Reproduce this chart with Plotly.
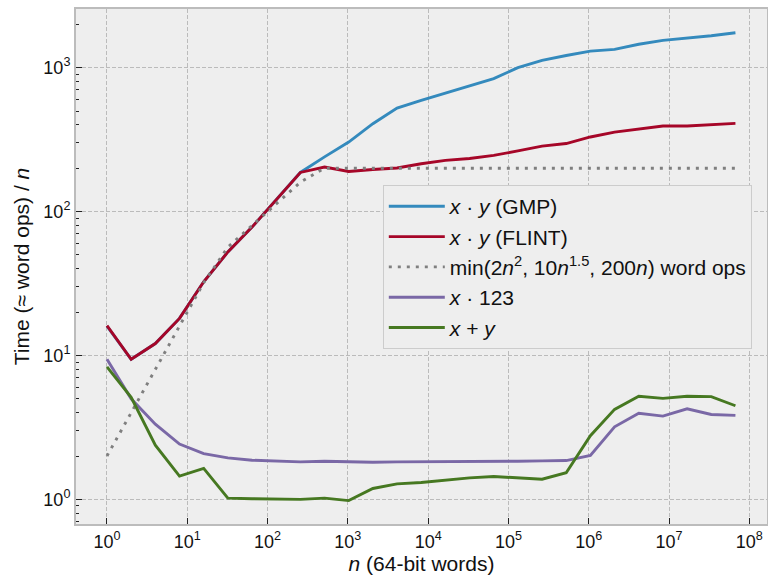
import plotly.graph_objects as go

# n = 2^k words, k = 0..26
n_words = [1, 2, 4, 8, 16, 32, 64, 128, 256, 512, 1024, 2048, 4096, 8192, 16384,
           32768, 65536, 131072, 262144, 524288, 1048576, 2097152, 4194304,
           8388608, 16777216, 33554432, 67108864]

gmp = [16.0, 9.4, 12.1, 18.1, 32.5, 52.4, 78, 120, 187, 240, 304, 408, 524, 593,
       666, 748, 839, 1000, 1125, 1216, 1303, 1340, 1455, 1550, 1606, 1667, 1750]
flint = [16.1, 9.4, 12.1, 18.1, 32.5, 52.4, 78, 120, 187, 204, 190, 196, 201, 215,
         227, 234, 246, 264, 285, 297, 330, 357, 375, 393, 393, 402, 410]
bound = [2, 4, 8, 16, 32, 56.6, 80, 113.1, 160, 200, 200, 200, 200, 200, 200, 200,
         200, 200, 200, 200, 200, 200, 200, 200, 200, 200, 200]
scal = [9.4, 5.0, 3.33, 2.42, 2.08, 1.94, 1.87, 1.84, 1.82, 1.84, 1.82, 1.81, 1.82,
        1.82, 1.82, 1.83, 1.84, 1.84, 1.85, 1.86, 2.02, 3.19, 3.96, 3.79, 4.26, 3.89, 3.83]
add = [8.33, 5.11, 2.38, 1.45, 1.64, 1.02, 1.01, 1.0, 1.0, 1.02, 0.98, 1.19, 1.28,
       1.31, 1.36, 1.41, 1.44, 1.41, 1.38, 1.53, 2.77, 4.22, 5.21, 5.03, 5.2, 5.17, 4.47]

x_tickvals = [1, 10, 100, 1e3, 1e4, 1e5, 1e6, 1e7, 1e8]
x_ticktext = ["10<sup>%d</sup>" % i for i in range(9)]
y_tickvals = [1, 10, 100, 1000]
y_ticktext = ["10<sup>%d</sup>" % i for i in range(4)]
y_minor = [m * 10 ** e for e in range(-1, 4) for m in range(2, 10)]

series = [
    ("<i>x</i> · <i>y</i> (GMP)", gmp, "#348ABD", "solid"),
    ("<i>x</i> · <i>y</i> (FLINT)", flint, "#A60628", "solid"),
    ("min(2<i>n</i><sup>2</sup>, 10<i>n</i><sup>1.5</sup>, 200<i>n</i>) word ops", bound, "#7f7f7f", "3px,6px"),
    ("<i>x</i> · 123", scal, "#7A68A6", "solid"),
    ("<i>x</i> + <i>y</i>", add, "#467821", "solid"),
]

fig = go.Figure()
for name, vals, col, dash in series:
    fig.add_trace(go.Scatter(x=n_words, y=vals, mode="lines", name=name,
                             line=dict(color=col, width=2.9, dash=dash)))

font = "Liberation Sans, Arial, Helvetica, sans-serif"
fig.update_layout(
    width=768, height=576,
    margin=dict(l=76, r=1, t=9, b=52),
    paper_bgcolor="white", plot_bgcolor="#eeeeee",
    font=dict(family=font, size=18, color="#222222"),
    showlegend=True,
    legend=dict(x=0.444, y=0.658, xanchor="left", yanchor="top",
                bgcolor="#eeeeee", bordercolor="#cccccc", borderwidth=1,
                font=dict(size=21, color="#111111"), itemwidth=56,
                tracegroupgap=0),
)
fig.update_xaxes(
    type="log", range=[-0.386, 8.22], automargin=False,
    tickmode="array", tickvals=x_tickvals, ticktext=x_ticktext,
    ticks="inside", ticklen=6, tickwidth=1.2, tickcolor="#222222",
    showgrid=True, gridcolor="#bbbbbb", griddash="4px,2px", gridwidth=0.8,
    showline=True, linecolor="#bcbcbc", linewidth=2, mirror=True,
    zeroline=False,
    tickfont=dict(size=18, color="#111111"),
    title=dict(text="<i>n</i> (64-bit words)", font=dict(size=21, color="#111111"), standoff=4),
)
fig.update_yaxes(
    type="log", range=[-0.1715, 3.408], automargin=False,
    tickmode="array", tickvals=y_tickvals, ticktext=y_ticktext,
    ticks="inside", ticklen=6, tickwidth=1.2, tickcolor="#222222",
    minor=dict(tickvals=y_minor, ticks="inside", ticklen=3, tickwidth=1, tickcolor="#222222", showgrid=False),
    showgrid=True, gridcolor="#bbbbbb", griddash="4px,2px", gridwidth=0.8,
    showline=True, linecolor="#bcbcbc", linewidth=2, mirror=True,
    zeroline=False,
    tickfont=dict(size=18, color="#111111"),
    title=dict(text="Time (≈ word ops) / <i>n</i>", font=dict(size=21, color="#111111"), standoff=8),
)

fig.write_html("out.html", config={"displayModeBar": False},
               post_script="document.body.style.margin='0';document.body.style.overflow='hidden';")
